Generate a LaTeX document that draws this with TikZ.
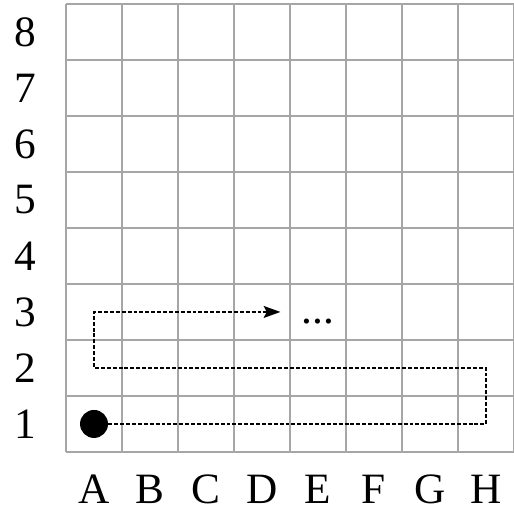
\documentclass[tikz,border=0pt]{standalone}
\usepackage{fontspec}
\setmainfont{Liberation Serif}
\usetikzlibrary{arrows.meta, positioning}

\tikzset{
    lbl/.style={font=\fontsize{22}{26}\selectfont, inner sep=0pt},
    walk/.style={dash pattern=on 2pt off 1pt, line width=1.1pt}
}

\begin{document}
\begin{tikzpicture}
    \useasboundingbox (-1.179, -1.036) rectangle (8, 8.071);

    % 棋盘
    \draw[black!35, line width=0.9pt] (0, 0) grid (8, 8);

    % 行号与列号
    \foreach \r in {1,...,8}
        \node[lbl] (row\r) at (-0.73, \r-0.5) {\r};
    \foreach \c/\l in {1/A, 2/B, 3/C, 4/D, 5/E, 6/F, 7/G, 8/H}
        \node[lbl] (col\l) at (\c-0.5, -0.67) {\l};

    % 起点与路线
    \node[circle, fill, inner sep=0pt, minimum size=0.5cm] (start) at (0.5, 0.5) {};
    \coordinate (h1) at (7.5, 0.5);
    \coordinate (h2) at (7.5, 1.5);
    \coordinate (a2) at (0.5, 1.5);
    \coordinate (a3) at (0.5, 2.5);
    \coordinate (tip) at (3.83, 2.5);
    \draw[walk, -{Stealth[length=8.5pt, width=6pt, inset=1.5pt]}]
        (start.east) -- (h1) -- (h2) -- (a2) -- (a3) -- (tip);

    \node[lbl] (more) at (4.5, 2.33) {...};
\end{tikzpicture}
\end{document}
